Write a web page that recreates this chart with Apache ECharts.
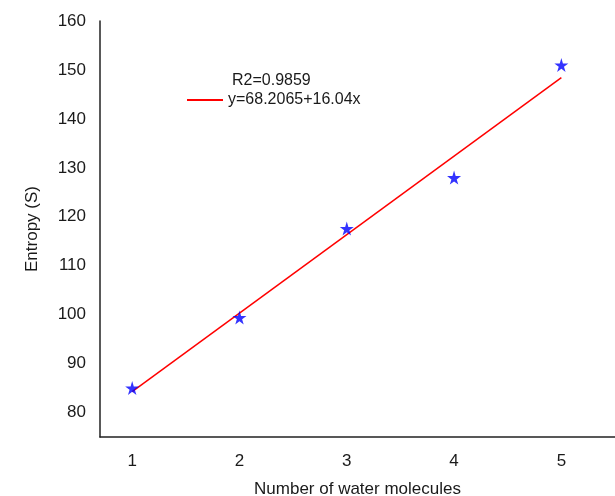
<!DOCTYPE html>
<html>
<head>
<meta charset="utf-8">
<script src="https://cdn.jsdelivr.net/npm/echarts@6/dist/echarts.min.js"></script>
<style>html,body{margin:0;padding:0;background:#fff}#c{width:615px;height:496px}</style>
</head>
<body>
<div id="c"></div>
<script>
var waterX = [1, 2, 3, 4, 5];
var entropyY = [85.0, 99.4, 117.6, 128.0, 151.0];
var fitX = [1, 5];
var fitY = [84.25, 148.41];
var xTicks = [1, 2, 3, 4, 5];
var yTicks = [80, 90, 100, 110, 120, 130, 140, 150, 160];
var fitLabel = 'y=68.2065+16.04x';
var r2Label = 'R2=0.9859';

var starPath = 'path://M50,0 L61,35 L98,35 L68,57 L79,91 L50,70 L21,91 L32,57 L2,35 L39,35 Z';
var font = 'Liberation Sans, Arial, sans-serif';
var txt = '#1a1a1a';

var chart = echarts.init(document.getElementById('c'), null, {renderer: 'canvas'});
chart.setOption({
  animation: false,
  backgroundColor: '#fff',
  textStyle: {fontFamily: font},
  title: {
    text: r2Label, left: 232, top: 73, padding: 0,
    textStyle: {fontFamily: font, fontSize: 16, fontWeight: 'normal', color: txt}
  },
  legend: {
    data: [fitLabel], left: 187, top: 92, padding: 0,
    icon: 'rect', itemWidth: 36, itemHeight: 2, itemGap: 5,
    textStyle: {fontFamily: font, fontSize: 16, color: txt}
  },
  grid: {left: 100, right: 0, top: 21, bottom: 59, containLabel: false, outerBoundsMode: 'none'},
  xAxis: {
    type: 'value', min: 0.7, max: 5.5,
    name: 'Number of water molecules', nameLocation: 'middle', nameGap: 44,
    nameTextStyle: {fontFamily: font, fontSize: 17, color: txt},
    axisLine: {show: true, lineStyle: {color: '#222', width: 1.5}},
    axisTick: {show: false},
    splitLine: {show: false},
    axisLabel: {customValues: xTicks, fontFamily: font, fontSize: 17, color: txt, margin: 16}
  },
  yAxis: {
    type: 'value', min: 75, max: 160,
    name: 'Entropy (S)', nameLocation: 'middle', nameGap: 59, nameRotate: 90,
    nameTextStyle: {fontFamily: font, fontSize: 17, color: txt},
    axisLine: {show: true, lineStyle: {color: '#222', width: 1.5}},
    axisTick: {show: false},
    splitLine: {show: false},
    axisLabel: {customValues: yTicks, fontFamily: font, fontSize: 17, color: txt, margin: 14}
  },
  series: [
    {
      name: fitLabel, type: 'line',
      data: fitX.map(function (x, i) { return [x, fitY[i]]; }),
      showSymbol: false, symbol: 'none',
      lineStyle: {color: '#ff0000', width: 1.5},
      itemStyle: {color: '#ff0000'},
      z: 2
    },
    {
      name: 'data', type: 'scatter',
      data: waterX.map(function (x, i) { return [x, entropyY[i]]; }),
      symbol: starPath, symbolSize: 14,
      itemStyle: {color: '#0000ff'},
      z: 3
    }
  ]
});
</script>
</body>
</html>
